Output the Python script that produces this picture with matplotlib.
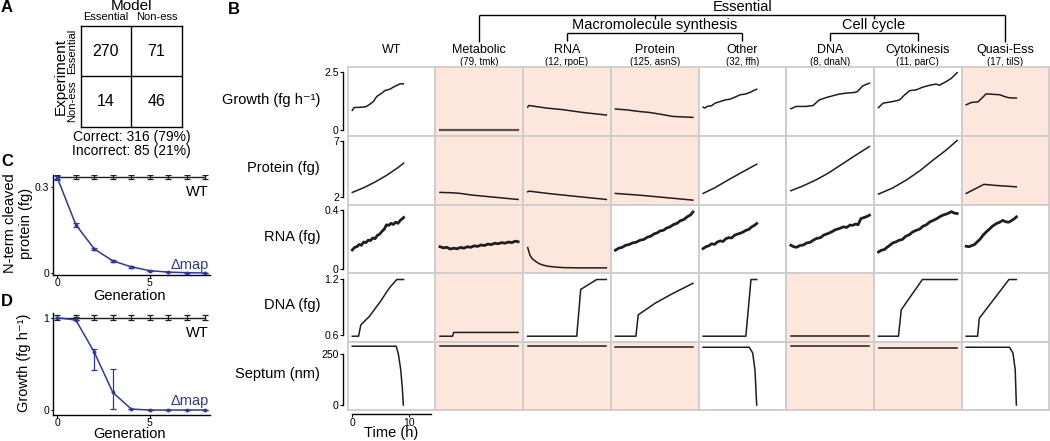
import matplotlib
matplotlib.use("Agg")
import matplotlib.pyplot as plt

plt.rcParams['font.family'] = ['Liberation Sans', 'DejaVu Sans']

W, H = 1050, 441

# ---------------- data ----------------
# panel A: confusion matrix (rows = experiment, cols = model)
conf_counts = [[270, 71], [14, 46]]
conf_labels = ["Essential", "Non-ess"]
correct_txt = "Correct: 316 (79%)"
incorrect_txt = "Incorrect: 85 (21%)"

# panels C, D
generation = [0, 1, 2, 3, 4, 5, 6, 7, 8]
cleaved_wt = [0.3325] * 9
cleaved_wt_err = [0.008] * 9
cleaved_map = [0.330, 0.168, 0.084, 0.043, 0.022, 0.009, 0.004, 0.002, 0.001]
cleaved_map_err = [0.006, 0.007, 0.004, 0.003, 0.003, 0.0, 0.0, 0.0, 0.0]
growth_gen_wt = [1.0] * 9
growth_gen_wt_err = [0.03] * 9
growth_gen_map = [1.0, 0.975, 0.625, 0.19, 0.01, 0.0, 0.0, 0.0, 0.0]
growth_gen_map_lo = [0.0, 0.0, 0.19, 0.18, 0.0, 0, 0, 0, 0]
growth_gen_map_hi = [0.0, 0.03, 0.04, 0.25, 0.0, 0, 0, 0, 0]

# panel B: columns
columns = ["WT", "Metabolic", "RNA", "Protein", "Other", "DNA", "Cytokinesis", "Quasi-Ess"]
col_sub = ["", "(79, tmk)", "(12, rpoE)", "(125, asnS)", "(32, ffh)", "(8, dnaN)", "(11, parC)", "(17, tilS)"]
rows = ["Growth (fg h\u207b\u00b9)", "Protein (fg)", "RNA (fg)", "DNA (fg)", "Septum (nm)"]
row_ticks = [[0, 2.5], [2, 7], [0, 0.4], [0.6, 1.2], [0, 250]]
row_ylim = [(-0.24, 2.71), (1.37, 7.49), (-0.030, 0.439), (0.534, 1.259), (-24.5, 309)]

shade_growth = [0, 1, 1, 1, 0, 0, 0, 1]
shade_protein = [0, 1, 1, 1, 0, 0, 0, 1]
shade_rna = [0, 1, 1, 0, 0, 0, 0, 0]
shade_dna = [0, 1, 0, 0, 0, 1, 0, 0]
shade_septum = [0, 1, 1, 1, 0, 1, 1, 0]

# growth (fg/h) vs time (h)
gr_wt = [(0, 0.86), (0.3, 0.98), (1.9, 1.0), (2.5, 1.03), (3.1, 1.13), (3.7, 1.24), (4.3, 1.46), (5.2, 1.60),
         (5.7, 1.71), (6.6, 1.77), (7.2, 1.86), (7.8, 1.93), (8.4, 2.0), (8.95, 2.0)]
gr_metab = [(0, 0.0), (13.7, 0.0)]
gr_rna = [(0, 1.0), (0.2, 1.07), (3.3, 0.96), (6.2, 0.89), (9.7, 0.77), (13.8, 0.66)]
gr_prot = [(0, 0.92), (2, 0.88), (4.3, 0.81), (6, 0.77), (7.8, 0.70), (10.1, 0.60), (13.6, 0.56)]
gr_other = [(0, 1.0), (0.3, 0.96), (0.7, 1.03), (1.5, 1.06), (2.1, 1.17), (3.0, 1.24), (3.9, 1.31), (4.7, 1.34),
            (5.6, 1.43), (6.5, 1.53), (7.4, 1.56), (8.3, 1.64), (9.4, 1.77)]
gr_dna = [(0, 0.93), (0.95, 1.03), (2.7, 1.03), (3.9, 1.07), (5.0, 1.31), (6.2, 1.41), (7.4, 1.49), (8.5, 1.56),
          (9.7, 1.60), (11.2, 1.63), (11.7, 1.67), (12.6, 1.91), (13.8, 2.03)]
gr_cyto = [(0, 0.98), (0.8, 1.17), (2.5, 1.24), (3.7, 1.31), (4.6, 1.53), (5.5, 1.71), (6.6, 1.74), (7.8, 1.86),
           (9.0, 1.94), (10.1, 1.99), (10.7, 1.94), (11.9, 2.1), (12.8, 2.24), (13.8, 2.48)]
gr_quasi = [(0, 1.10), (0.9, 1.20), (2.1, 1.23), (3.5, 1.57), (5.9, 1.53), (7.0, 1.43), (7.6, 1.40), (8.8, 1.39)]

# protein (fg)
pr_wt = [(0, 2.45), (2, 2.87), (4, 3.38), (6, 3.97), (8, 4.66), (9, 5.06)]
pr_metab = [(0, 2.45), (2, 2.42), (3.4, 2.37), (5.5, 2.22), (7.5, 2.12), (10, 2.0), (13.7, 1.82)]
pr_rna = [(0, 2.51), (0.3, 2.56), (4, 2.33), (8, 2.12), (13.8, 1.82)]
pr_prot = [(0, 2.36), (4.3, 2.2), (9, 1.98), (13.6, 1.76)]
pr_other = [(0, 2.36), (2, 2.85), (4.7, 3.65), (7, 4.3), (9.4, 4.97)]
pr_dna = [(0, 2.6), (2, 3.0), (4.4, 3.56), (6.5, 4.15), (8.5, 4.81), (11, 5.65), (13.8, 6.55)]
pr_cyto = [(0, 2.30), (2.5, 2.85), (4.9, 3.56), (7.3, 4.4), (9.6, 5.35), (11.8, 6.2), (13.8, 7.09)]
pr_quasi = [(0, 2.36), (3.1, 3.17), (5, 3.08), (8.8, 2.95)]

# RNA (fg) - noisy traces
rn_wt = [(0, 0.128), (0.4, 0.145), (0.8, 0.150), (1.2, 0.165), (1.6, 0.160), (2.0, 0.182), (2.4, 0.178),
         (2.8, 0.195), (3.2, 0.192), (3.6, 0.210), (4.0, 0.205), (4.4, 0.228), (4.8, 0.236), (5.2, 0.255),
         (5.6, 0.270), (6.0, 0.300), (6.4, 0.296), (6.8, 0.310), (7.2, 0.302), (7.6, 0.318), (8.0, 0.310),
         (8.4, 0.330), (8.8, 0.342), (9.0, 0.350)]
rn_metab = [(0, 0.150), (0.6, 0.142), (1.2, 0.146), (1.8, 0.134), (2.4, 0.140), (3.0, 0.136), (3.6, 0.145),
            (4.2, 0.140), (4.8, 0.150), (5.4, 0.146), (6.0, 0.156), (6.6, 0.152), (7.2, 0.162), (7.8, 0.158),
            (8.4, 0.168), (9.0, 0.164), (9.6, 0.174), (10.2, 0.170), (10.8, 0.178), (11.4, 0.174),
            (12.0, 0.182), (12.6, 0.178), (13.2, 0.188), (13.7, 0.184)]
rn_rna = [(0, 0.144), (0.4, 0.091), (0.8, 0.068), (1.3, 0.052), (2.0, 0.034), (2.8, 0.023), (3.6, 0.016),
          (4.5, 0.012), (6.2, 0.007), (9, 0.005), (13.8, 0.005)]
rn_prot = [(0, 0.126), (0.6, 0.140), (1.2, 0.146), (1.8, 0.160), (2.4, 0.165), (3.0, 0.176), (3.6, 0.180),
           (4.3, 0.194), (5.0, 0.200), (5.6, 0.215), (6.2, 0.222), (6.8, 0.238), (7.4, 0.246), (7.8, 0.258),
           (8.4, 0.262), (9.0, 0.278), (9.6, 0.286), (10.2, 0.302), (10.8, 0.310), (11.4, 0.328),
           (12.0, 0.336), (12.6, 0.355), (13.2, 0.368), (13.6, 0.388)]
rn_other = [(0, 0.137), (0.5, 0.150), (1.0, 0.156), (1.5, 0.170), (2.0, 0.166), (2.5, 0.182), (3.0, 0.190),
            (3.5, 0.186), (4.0, 0.205), (4.5, 0.212), (5.0, 0.210), (5.5, 0.228), (6.0, 0.236), (6.5, 0.242),
            (7.0, 0.250), (7.5, 0.262), (8.0, 0.268), (8.5, 0.285), (9.0, 0.296), (9.4, 0.309)]
rn_dna = [(0, 0.160), (0.5, 0.150), (1.0, 0.146), (1.6, 0.158), (2.2, 0.162), (2.8, 0.176), (3.4, 0.180),
          (4.0, 0.196), (4.5, 0.206), (5.2, 0.212), (5.8, 0.230), (6.5, 0.240), (7.2, 0.252), (7.8, 0.266),
          (8.5, 0.274), (9.2, 0.286), (9.8, 0.282), (10.4, 0.298), (10.9, 0.297), (11.4, 0.306),
          (11.8, 0.300), (12.3, 0.343), (12.9, 0.350), (13.4, 0.358), (13.8, 0.366)]
rn_cyto = [(0, 0.114), (0.5, 0.126), (1.0, 0.130), (1.5, 0.146), (2.0, 0.160), (2.5, 0.176), (3.0, 0.182),
           (3.6, 0.194), (4.2, 0.200), (4.8, 0.222), (5.4, 0.232), (6.0, 0.251), (6.6, 0.262), (7.2, 0.270),
           (7.8, 0.290), (8.4, 0.300), (9.0, 0.320), (9.6, 0.330), (10.2, 0.342), (10.8, 0.356),
           (11.3, 0.366), (11.8, 0.372), (12.3, 0.380), (12.8, 0.390), (13.3, 0.380), (13.8, 0.377)]
rn_quasi = [(0, 0.153), (0.5, 0.150), (1.0, 0.158), (1.5, 0.166), (1.9, 0.182), (2.4, 0.200), (2.9, 0.226),
            (3.5, 0.251), (4.0, 0.268), (4.6, 0.290), (5.3, 0.309), (5.8, 0.316), (6.4, 0.330), (7.0, 0.320),
            (7.5, 0.318), (8.0, 0.330), (8.4, 0.340), (8.8, 0.354)]

# DNA (fg)
dn_wt = [(0, 0.59), (1.1, 0.59), (1.5, 0.71), (3, 0.80), (4.9, 0.955), (6.5, 1.10), (7.8, 1.19), (9, 1.19)]
dn_metab = [(0, 0.59), (2.2, 0.59), (2.4, 0.63), (13.7, 0.63)]
dn_rna = [(0, 0.59), (8.6, 0.59), (9.3, 1.085), (12.1, 1.19), (13.8, 1.19)]
dn_prot = [(0, 0.59), (3.6, 0.59), (4.0, 0.816), (7, 0.94), (10, 1.04), (13.6, 1.15)]
dn_other = [(0, 0.59), (7.5, 0.59), (8.4, 1.19), (9.4, 1.19)]
dn_dna = [(0, 0.59), (13.8, 0.59)]
dn_cyto = [(0, 0.59), (3.5, 0.59), (4.0, 0.87), (5.5, 1.0), (7.7, 1.19), (13.8, 1.19)]
dn_quasi = [(0, 0.59), (2.0, 0.59), (2.3, 0.78), (7.5, 1.19), (8.8, 1.19)]

# septum (nm)
sp_wt = [(0, 286), (7.7, 286), (8.1, 245), (8.5, 171), (8.8, 73), (8.95, 0)]
sp_metab = [(0, 286), (13.7, 286)]
sp_rna = [(0, 288), (13.8, 288)]
sp_prot = [(0, 281), (13.6, 281)]
sp_other = [(0, 281), (8.1, 281), (8.7, 253), (9.1, 171), (9.4, 0)]
sp_dna = [(0, 289), (13.8, 289)]
sp_cyto = [(0, 278), (13.8, 278)]
sp_quasi = [(0, 281), (7.6, 281), (8.2, 253), (8.6, 171), (8.8, 0)]

curves = [
    [gr_wt, gr_metab, gr_rna, gr_prot, gr_other, gr_dna, gr_cyto, gr_quasi],
    [pr_wt, pr_metab, pr_rna, pr_prot, pr_other, pr_dna, pr_cyto, pr_quasi],
    [rn_wt, rn_metab, rn_rna, rn_prot, rn_other, rn_dna, rn_cyto, rn_quasi],
    [dn_wt, dn_metab, dn_rna, dn_prot, dn_other, dn_dna, dn_cyto, dn_quasi],
    [sp_wt, sp_metab, sp_rna, sp_prot, sp_other, sp_dna, sp_cyto, sp_quasi],
]
shades = [shade_growth, shade_protein, shade_rna, shade_dna, shade_septum]

# ---------------- layout helpers (pixel coords, y down) ----------------
def rect(x0, y0, x1, y1):
    return [x0 / W, 1 - y1 / H, (x1 - x0) / W, (y1 - y0) / H]

SALMON = '#FDE6DC'
GRID = '#CDCDCD'
INK = '#1e1e1e'
BLUE = '#2E37A6'

fig = plt.figure(figsize=(W / 100, H / 100), dpi=100)
ov = fig.add_axes([0, 0, 1, 1])
ov.set_xlim(0, W)
ov.set_ylim(H, 0)
ov.axis('off')

def txt(x, y, s, **kw):
    kw.setdefault('ha', 'center')
    kw.setdefault('va', 'center')
    ov.text(x, y, s, **kw)

def seg(xs, ys):
    ov.plot(xs, ys, color='black', lw=1.0, solid_capstyle='butt')

# panel letters
for letter, (lx, ly) in zip("ABCD", [(7, 8), (234, 9), (7, 162), (7, 302)]):
    txt(lx, ly, letter, fontsize=12, fontweight='bold')

# ---------------- panel A ----------------
axA = fig.add_axes(rect(80.7, 25.7, 181.7, 127))
axA.set_xlim(0, 2)
axA.set_ylim(2, 0)
axA.set_xticks([])
axA.set_yticks([])
for s in axA.spines.values():
    s.set_linewidth(1.0)
axA.axhline(1, color='black', lw=1.0)
axA.axvline(1, color='black', lw=1.0)
for i in range(2):
    for j in range(2):
        axA.text(j + 0.5, i + 0.5, str(conf_counts[i][j]), ha='center', va='center', fontsize=11.5)
txt(131.2, 6, "Model", fontsize=11)
txt(105.9, 17, conf_labels[0], fontsize=8)
txt(156.7, 17, conf_labels[1], fontsize=8)
txt(60.5, 76.3, "Experiment", fontsize=11, rotation=90)
txt(72, 51, conf_labels[0], fontsize=8, rotation=90)
txt(72, 101.6, conf_labels[1], fontsize=8, rotation=90)
txt(131.5, 136.5, correct_txt, fontsize=10)
txt(131.5, 151.5, incorrect_txt, fontsize=10)

# ---------------- panels C & D ----------------
def gen_axes(r, ylim, yticks, yticklabels):
    ax = fig.add_axes(r)
    ax.set_xlim(-0.25, 8.25)
    ax.set_ylim(*ylim)
    for k in ('top', 'right'):
        ax.spines[k].set_visible(False)
    for k in ('left', 'bottom'):
        ax.spines[k].set_linewidth(1.0)
    ax.set_xticks([0, 5])
    ax.set_yticks(yticks)
    ax.set_yticklabels(yticklabels)
    ax.tick_params(length=1.8, width=0.8, labelsize=7.5, pad=0.6)
    ax.patch.set_visible(False)
    return ax

axC = gen_axes(rect(52.7, 175, 210, 275), (-0.006, 0.34), [0, 0.3], ["0", "0.3"])
axC.errorbar(generation, cleaved_wt, yerr=cleaved_wt_err, color=INK, lw=1.0, elinewidth=0.9,
             capsize=2, capthick=0.9)
axC.errorbar(generation, cleaved_map, yerr=cleaved_map_err, color=BLUE, lw=1.1, elinewidth=0.9,
             capsize=2, capthick=0.9, marker='o', ms=1.8)
txt(209, 192, "WT", fontsize=10.5, ha='right')
txt(209, 265, "\u0394map", fontsize=10.5, ha='right', color=BLUE)
txt(18, 223, "N-term cleaved\nprotein (fg)", fontsize=10.5, rotation=90, linespacing=1.1)
txt(130, 295.5, "Generation", fontsize=10.5)

axD = gen_axes(rect(52.7, 313.3, 210, 415), (-0.054, 1.048), [0, 1], ["0", "1"])
axD.errorbar(generation, growth_gen_wt, yerr=growth_gen_wt_err, color=INK, lw=1.0, elinewidth=0.9,
             capsize=2, capthick=0.9)
axD.errorbar(generation, growth_gen_map, yerr=[growth_gen_map_lo, growth_gen_map_hi], color=BLUE, lw=1.1,
             elinewidth=0.9, capsize=2, capthick=0.9, marker='o', ms=1.8)
txt(209, 333, "WT", fontsize=10.5, ha='right')
txt(209, 401, "\u0394map", fontsize=10.5, ha='right', color=BLUE)
txt(24, 363, "Growth (fg h\u207b\u00b9)", fontsize=10.5, rotation=90)
txt(130, 434, "Generation", fontsize=10.5)

# ---------------- panel B ----------------
col_left = 347.7
col_w = 87.7
row_edges = [67.3, 136.0, 204.5, 273.0, 341.5, 410.0]
xlim_cell = (-4.6 / 5.7, (col_w - 4.6) / 5.7)
noisy_row = 2

for ri in range(5):
    y0, y1 = row_edges[ri], row_edges[ri + 1]
    for ci in range(8):
        x0 = col_left + ci * col_w
        ax = fig.add_axes(rect(x0, y0, x0 + col_w, y1))
        ax.set_xlim(*xlim_cell)
        ax.set_ylim(*row_ylim[ri])
        ax.set_xticks([])
        ax.set_yticks([])
        ax.set_facecolor(SALMON if shades[ri][ci] else 'white')
        for s in ax.spines.values():
            s.set_color(GRID)
            s.set_linewidth(1.3)
        pts = curves[ri][ci]
        ts = [p[0] for p in pts]
        vs = [p[1] for p in pts]
        lw = 1.1
        color = INK
        if ri == noisy_row and ci != 2:
            lw = 2.0
        if ri == 0 and ci == 1:
            lw = 1.6
            color = '#555555'
        ax.plot(ts, vs, color=color, lw=lw, solid_joinstyle='round')
    # y axis for the row
    yax = fig.add_axes(rect(343.3, y0, 344.3, y1))
    yax.set_ylim(*row_ylim[ri])
    yax.patch.set_visible(False)
    for k in ('top', 'right', 'bottom'):
        yax.spines[k].set_visible(False)
    yax.spines['left'].set_bounds(*row_ticks[ri])
    yax.spines['left'].set_linewidth(1.0)
    yax.set_xticks([])
    yax.set_yticks(row_ticks[ri])
    yax.set_yticklabels([f"{v:g}" for v in row_ticks[ri]])
    yax.tick_params(length=2.2, width=0.8, labelsize=7.5, pad=1.0)
    txt(320, (y0 + y1) / 2 - 2, rows[ri], fontsize=10.5, ha='right')

# time axis
tax = fig.add_axes(rect(col_left, 413.3, col_left + col_w, 414.3))
tax.set_xlim(*xlim_cell)
tax.patch.set_visible(False)
for k in ('top', 'right', 'left'):
    tax.spines[k].set_visible(False)
tax.spines['bottom'].set_bounds(0, 13.75)
tax.spines['bottom'].set_linewidth(1.0)
tax.set_yticks([])
tax.set_xticks([0, 10])
tax.tick_params(length=1.8, width=0.8, labelsize=7.5, pad=0.6)
txt(391, 433.5, "Time (h)", fontsize=10.5)

# column headers
centers = [col_left + col_w * (i + 0.5) for i in range(8)]
for i, name in enumerate(columns):
    txt(centers[i], 50, name, fontsize=9)
    if col_sub[i]:
        txt(centers[i], 62, col_sub[i], fontsize=7)

# bracket tree
macro_x = (centers[2] + centers[4]) / 2
cell_x = (centers[5] + centers[6]) / 2
seg([centers[1], centers[7]], [15, 15])
seg([centers[1], centers[1]], [15, 42])
seg([centers[7], centers[7]], [15, 42])
seg([macro_x, macro_x], [15, 18.5])
seg([cell_x, cell_x], [15, 18.5])
txt((centers[1] + centers[7]) / 2, 7, "Essential", fontsize=10.5)
txt(macro_x, 25.5, "Macromolecule synthesis", fontsize=10.5)
txt(cell_x, 25.5, "Cell cycle", fontsize=10.5)
for a, b in [(centers[2], centers[4]), (centers[5], centers[6])]:
    seg([a, b], [32.7, 32.7])
    seg([a, a], [32.7, 41])
    seg([b, b], [32.7, 41])

fig.savefig("out.png", dpi=100)
